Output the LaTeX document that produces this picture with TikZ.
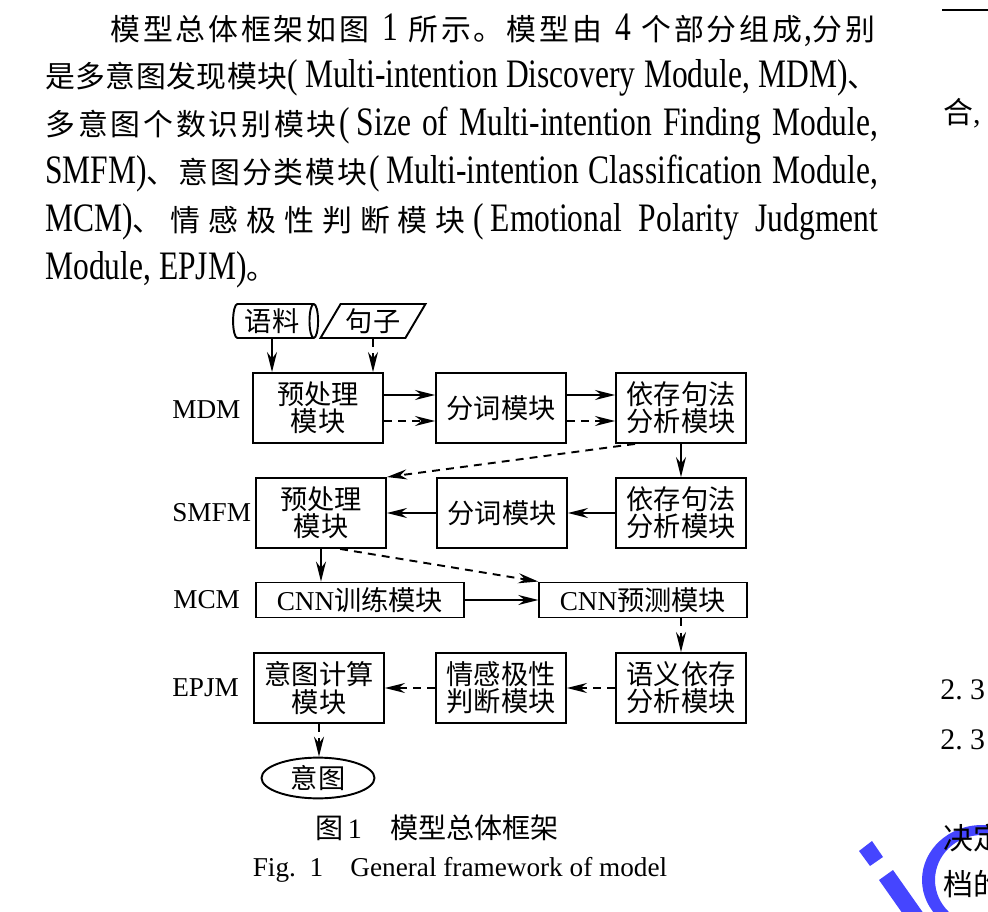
\documentclass[tikz,border=0pt]{standalone}
\usepackage{fontspec}
\setmainfont{Liberation Serif}
\newfontfamily\cjk{Noto Sans CJK SC}
\newfontfamily\latcond[FakeStretch=0.78]{Liberation Serif}
\usetikzlibrary{arrows.meta,shapes.geometric}

\definecolor{blu}{HTML}{4545FF}

% cinese con un po' di colla tra i caratteri (per giustificare)
\newcommand{\zh}[1]{{\cjk\zhciclo#1\relax}}
\def\zhciclo#1{\ifx#1\relax\else #1\hskip0pt plus 2pt\expandafter\zhciclo\fi}
\newcommand{\en}[1]{{\latcond\fontsize{23}{24}\selectfont #1}}
\newcommand{\diagfont}{\fontsize{15.5}{15.5}\selectfont\cjk}

\begin{document}
\begin{tikzpicture}[x=0.02cm, y=-0.02cm,
                % riga di testo giustificata
                riga/.style={anchor=west, inner sep=0pt, font=\fontsize{17}{20}\selectfont},
                % blocco del diagramma
                blocco/.style={
                    draw,
                    rectangle,
                    minimum width=2.6cm,
                    minimum height=1.4cm,
                    line width=1.1pt,
                    inner sep=1pt,
                    align=center,
                    font=\diagfont
                },
                % blocco basso e largo per la CNN
                bloccocnn/.style={blocco, minimum width=4.15cm, minimum height=0.7cm},
                % etichette dei moduli a sinistra
                etichetta/.style={anchor=west, inner sep=0pt, font=\fontsize{15.5}{16}\selectfont},
                % frecce continue
                freccia/.style={
                    ->,
                    >={Stealth[length=4mm, width=2mm]},
                    line width=1.1pt
                },
                % frecce tratteggiate
                tratteggio/.style={freccia, dash pattern=on 4.5pt off 3.5pt}
            ]
                \clip (0,0) rectangle (988,912);

                % 1. Paragrafo di testo
                \node [riga] (riga1) at (110,30) {\makebox[15.36cm][s]{\zh{模型总体框架如图} \en{1} \zh{所示。模型由} \en{4} \zh{个部分组成}\en{,}\zh{分别}}};
                \node [riga] (riga2) at (45,78) {\makebox[16.66cm][s]{\zh{是多意图发现模块}\en{(\,Multi-intention Discovery Module, MDM)}\zh{、}}};
                \node [riga] (riga3) at (45,126) {\makebox[16.66cm][s]{\zh{多意图个数识别模块}\en{(\,Size of Multi-intention Finding Module,}}};
                \node [riga] (riga4) at (45,174) {\makebox[16.66cm][s]{\en{SMFM)}\zh{、意图分类模块}\en{(\,Multi-intention Classification Module,}}};
                \node [riga] (riga5) at (45,222) {\makebox[16.66cm][s]{\en{MCM)}\zh{、情感极性判断模块}\en{(\,Emotional Polarity Judgment}}};
                \node [riga] (riga6) at (45,270) {\en{Module, EPJM)}{\cjk 。}};

                % 2. Ingressi: corpus e frase
                \node [draw, cylinder, shape border rotate=0, aspect=0.3, minimum width=0.68cm, minimum height=1.7cm, line width=1.1pt, inner sep=1pt, font=\diagfont] (yuliao) at (272,321) {语料};
                \node [draw, trapezium, trapezium left angle=55, trapezium right angle=125, trapezium stretches body, minimum width=2.1cm, minimum height=0.68cm, line width=1.1pt, inner sep=1pt, font=\diagfont] (juzi) at (373,321) {句子};

                % 3. MDM
                \node [etichetta] (mdm) at (172,410) {MDM};
                \node [blocco] (pre1) at (318,408) {预处理\\模块};
                \node [blocco] (seg1) at (501,408) {分词模块};
                \node [blocco] (dip1) at (681,408) {依存句法\\分析模块};

                % 4. SMFM
                \node [etichetta] (smfm) at (172,513) {SMFM};
                \node [blocco] (pre2) at (321,513) {预处理\\模块};
                \node [blocco] (seg2) at (502,513) {分词模块};
                \node [blocco] (dip2) at (681,513) {依存句法\\分析模块};

                % 5. MCM
                \node [etichetta] (mcm) at (173,600) {MCM};
                \node [bloccocnn] (cnn1) at (360,600) {\textrm{CNN}训练模块};
                \node [bloccocnn] (cnn2) at (643,600) {\textrm{CNN}预测模块};

                % 6. EPJM
                \node [etichetta] (epjm) at (172,688) {EPJM};
                \node [blocco] (calc) at (319,688) {意图计算\\模块};
                \node [blocco] (emo) at (501,688) {情感极性\\判断模块};
                \node [blocco] (sem) at (681,688) {语义依存\\分析模块};
                \node [draw, ellipse, minimum width=2.26cm, minimum height=0.66cm, line width=1.1pt, inner sep=1pt, font=\diagfont] (yitu) at (318,778) {意图};

                % 7. Frecce
                \draw [freccia] (yuliao.south) -- (yuliao.south |- pre1.north);
                \draw [tratteggio] (juzi.south) -- (juzi.south |- pre1.north);
                \draw [freccia] ([yshift=0.26cm]pre1.east) -- ([yshift=0.26cm]seg1.west);
                \draw [tratteggio] ([yshift=-0.26cm]pre1.east) -- ([yshift=-0.26cm]seg1.west);
                \draw [freccia] ([yshift=0.26cm]seg1.east) -- ([yshift=0.26cm]dip1.west);
                \draw [tratteggio] ([yshift=-0.26cm]seg1.east) -- ([yshift=-0.26cm]dip1.west);
                \draw [tratteggio] (dip1.218) -- (pre2.north east);
                \draw [freccia] (dip1) -- (dip2);
                \draw [freccia] (dip2) -- (seg2);
                \draw [freccia] (seg2) -- (pre2);
                \draw [freccia] (pre2.south) -- (pre2.south |- cnn1.north);
                \draw [tratteggio] (pre2.-62) -- (cnn2.north west);
                \draw [freccia] (cnn1) -- (cnn2);
                \draw [tratteggio] (sem.north |- cnn2.south) -- (sem.north);
                \draw [tratteggio] (sem) -- (emo);
                \draw [tratteggio] (emo) -- (calc);
                \draw [tratteggio] (calc.south) -- (calc.south |- yitu.north);

                % 8. Didascalia
                \node [font=\fontsize{16}{18}\selectfont] (didas1) at (437,828) {{\cjk 图}\,1{\cjk 　模型总体框架}};
                \node [font=\fontsize{15.5}{18}\selectfont] (didas2) at (460,870) {Fig.~~1\quad General framework of model};

                % 9. Colonna a destra (tagliata) e filigrana
                \fill [blu] (859,851) -- (872,841) -- (883,857) -- (870,866) -- cycle;
                \fill [blu] (879,880) -- (893,870) -- (931,924) -- (917,934) -- cycle;
                \fill [blu, even odd rule] (982,880) ellipse [x radius=1.2cm, y radius=1.1cm]
                                           (982,880) ellipse [x radius=0.94cm, y radius=0.9cm];
                \draw [line width=1.2pt] (942,10) -- (990,10);
                \node [riga] (dx1) at (943,113) {{\cjk 合},};
                \node [riga, font=\fontsize{17}{18}\selectfont] (dx2) at (940,690) {2.\hspace{0.25em}3};
                \node [riga, font=\fontsize{17}{18}\selectfont] (dx3) at (940,740) {2.\hspace{0.25em}3};
                \node [riga] (dx4) at (943,838) {{\cjk 决定}};
                \node [riga] (dx5) at (943,884) {{\cjk 档的}};

            \end{tikzpicture}
\end{document}
